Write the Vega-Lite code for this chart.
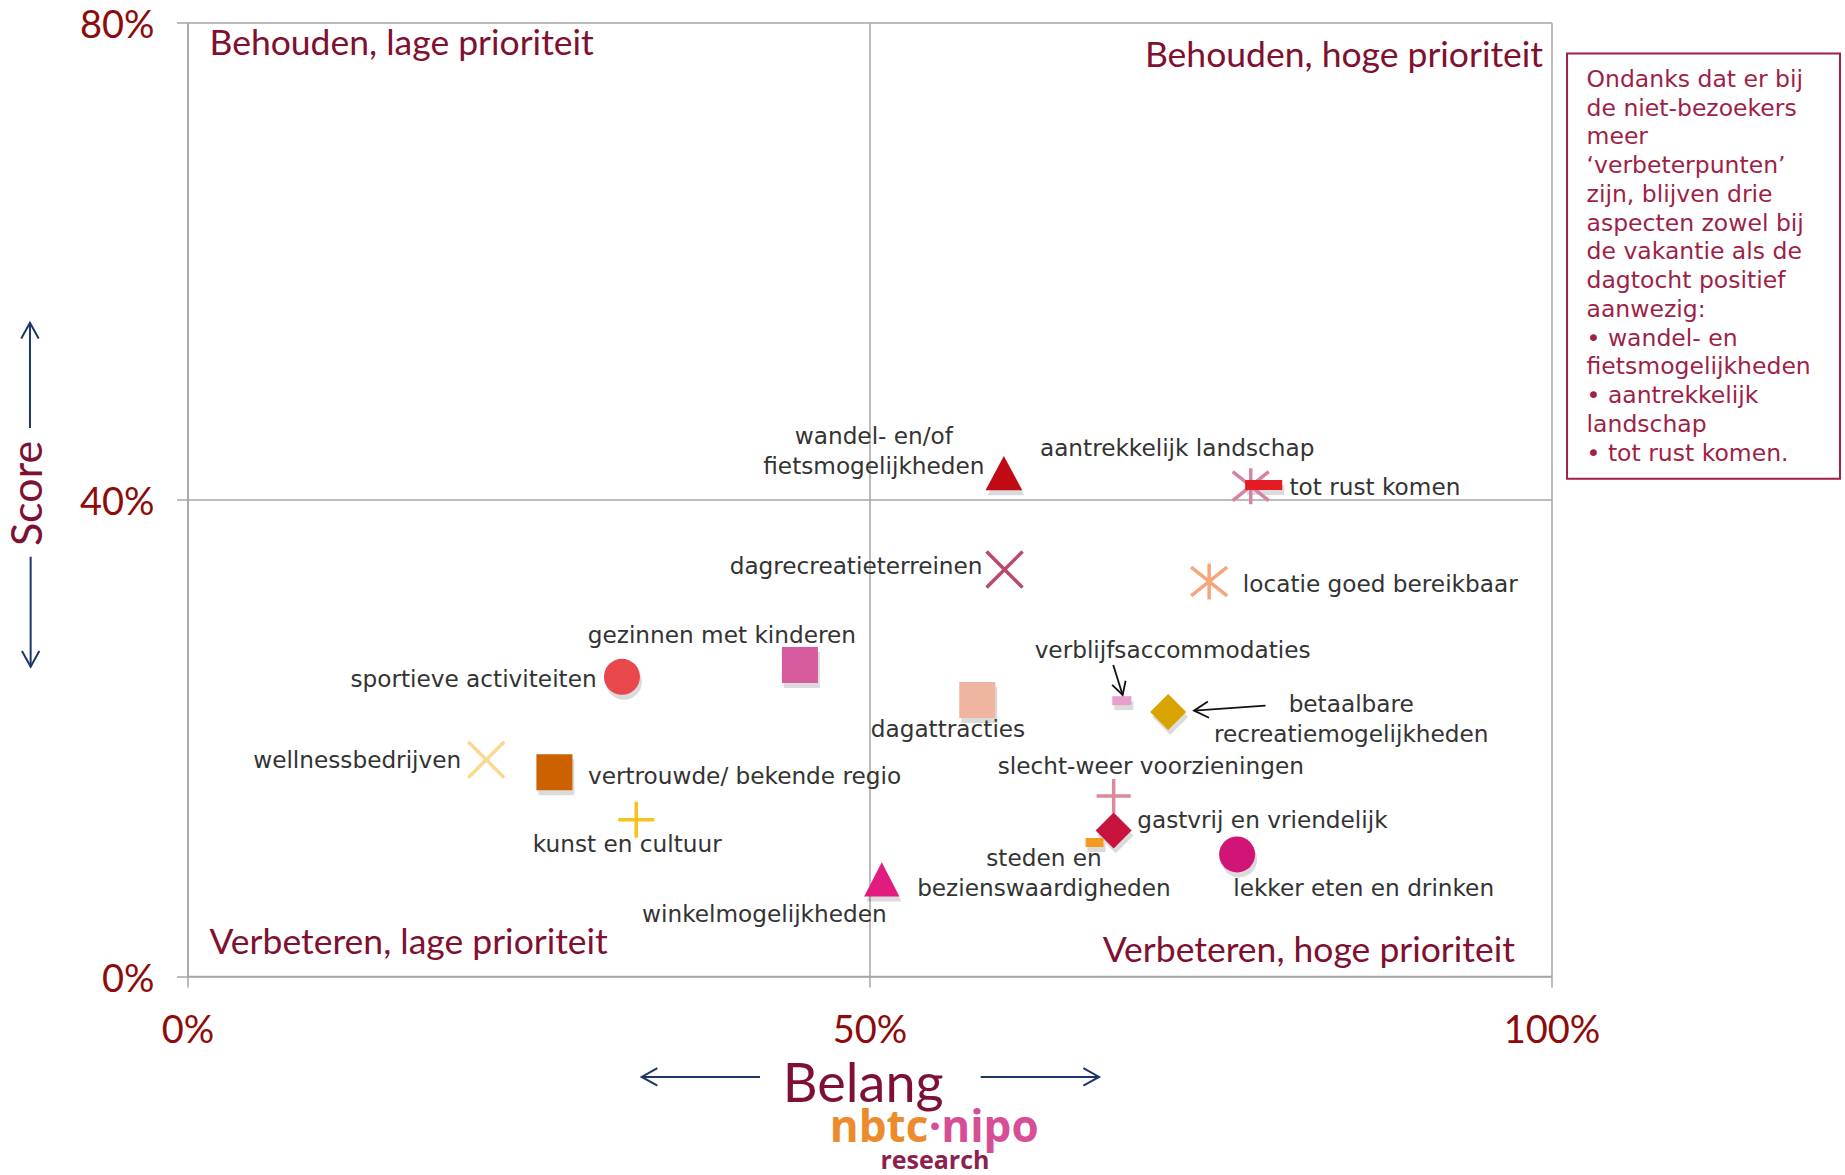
{
  "$schema": "https://vega.github.io/schema/vega-lite/v6.json",
  "width": 1364,
  "height": 953.5,
  "autosize": "none",
  "padding": {"left": 187.5, "top": 22.5, "right": 293.5, "bottom": 199},
  "background": "#ffffff",
  "datasets": {
    "points": [
      {"aspect": "wandel- en/of fietsmogelijkheden", "label": "wandel- en/of\nfietsmogelijkheden", "belang": 59.85, "score": 42.2},
      {"aspect": "aantrekkelijk landschap", "label": "aantrekkelijk landschap", "belang": 77.95, "score": 41.1},
      {"aspect": "tot rust komen", "label": "tot rust komen", "belang": 78.9, "score": 41.2},
      {"aspect": "dagrecreatieterreinen", "label": "dagrecreatieterreinen", "belang": 59.9, "score": 34.1},
      {"aspect": "locatie goed bereikbaar", "label": "locatie goed bereikbaar", "belang": 74.9, "score": 33.1},
      {"aspect": "gezinnen met kinderen", "label": "gezinnen met kinderen", "belang": 44.9, "score": 26.1},
      {"aspect": "sportieve activiteiten", "label": "sportieve activiteiten", "belang": 31.85, "score": 25.1},
      {"aspect": "dagattracties", "label": "dagattracties", "belang": 57.9, "score": 23.15},
      {"aspect": "verblijfsaccommodaties", "label": "verblijfsaccommodaties", "belang": 68.5, "score": 23.1},
      {"aspect": "betaalbare recreatiemogelijkheden", "label": "betaalbare\nrecreatiemogelijkheden", "belang": 71.9, "score": 22.15},
      {"aspect": "wellnessbedrijven", "label": "wellnessbedrijven", "belang": 21.9, "score": 18.15},
      {"aspect": "vertrouwde/ bekende regio", "label": "vertrouwde/ bekende regio", "belang": 26.9, "score": 17.1},
      {"aspect": "kunst en cultuur", "label": "kunst en cultuur", "belang": 32.9, "score": 13.1},
      {"aspect": "slecht-weer voorzieningen", "label": "slecht-weer voorzieningen", "belang": 67.9, "score": 15.1},
      {"aspect": "gastvrij en vriendelijk", "label": "gastvrij en vriendelijk", "belang": 67.9, "score": 12.2},
      {"aspect": "steden en bezienswaardigheden", "label": "steden en\nbezienswaardigheden", "belang": 66.5, "score": 11.2},
      {"aspect": "lekker eten en drinken", "label": "lekker eten en drinken", "belang": 76.95, "score": 10.2},
      {"aspect": "winkelmogelijkheden", "label": "winkelmogelijkheden", "belang": 50.9, "score": 8.1}
    ]
  },
  "data": {"values": [{}]},
  "config": {
    "view": {"stroke": null},
    "axis": {
      "grid": true, "gridColor": "#A6A6A6", "gridWidth": 1.5,
      "domainColor": "#A6A6A6", "domainWidth": 1.5,
      "tickColor": "#A6A6A6", "tickWidth": 1.5, "tickSize": 11,
      "labelFont": "Lato", "labelFontSize": 38, "labelColor": "#8E0B0B",
      "titleFont": "Lato", "titleColor": "#7E1034", "titleFontWeight": "normal"
    },
    "text": {"font": "DejaVu Sans", "fontSize": 23.2, "color": "#333333", "lineBreak": "\n", "lineHeight": 30, "baseline": "alphabetic"}
  },
  "layer": [
    {
      "data": {"name": "points"},
      "mark": {"type": "point", "filled": true, "color": "#000000", "opacity": 0.14, "size": 1296, "strokeWidth": 3.5, "xOffset": 2, "yOffset": 5},
      "encoding": {
        "x": {
          "field": "belang", "type": "quantitative",
          "scale": {"domain": [0, 100], "nice": false, "zero": false},
          "axis": {
            "values": [0, 50, 100], "labelExpr": "datum.value + '%'", "labelFlush": false, "labelOverlap": false,
            "labelPadding": 55, "labelBaseline": "alphabetic",
            "title": "Belang", "titleX": 675.2, "titleY": 125.7, "titleBaseline": "alphabetic", "titleAlign": "center",
            "titleAngle": 0, "titleFontSize": 54
          }
        },
        "y": {
          "field": "score", "type": "quantitative",
          "scale": {"domain": [0, 80], "nice": false, "zero": false},
          "axis": {
            "values": [0, 40, 80], "labelExpr": "datum.value + '%'", "labelFlush": false, "labelOverlap": false,
            "labelPadding": 22.5, "labelBaseline": "middle", "labelOffset": 4,
            "title": "Score", "titleX": -159.5, "titleY": 470.5, "titleAngle": 270, "titleBaseline": "middle", "titleAlign": "center",
            "titleFontSize": 43
          }
        },
        "shape": {"field": "aspect", "type": "nominal", "legend": null}
      }
    },
    {
      "data": {"name": "points"},
      "mark": {"type": "point", "filled": true, "opacity": 1, "size": 1296, "strokeWidth": 3.5},
      "encoding": {
        "x": {"field": "belang", "type": "quantitative"},
        "y": {"field": "score", "type": "quantitative"},
        "shape": {
          "field": "aspect", "type": "nominal", "legend": null,
          "scale": {
            "domain": ["wandel- en/of fietsmogelijkheden", "aantrekkelijk landschap", "tot rust komen", "dagrecreatieterreinen", "locatie goed bereikbaar", "gezinnen met kinderen", "sportieve activiteiten", "dagattracties", "verblijfsaccommodaties", "betaalbare recreatiemogelijkheden", "wellnessbedrijven", "vertrouwde/ bekende regio", "kunst en cultuur", "slecht-weer voorzieningen", "gastvrij en vriendelijk", "steden en bezienswaardigheden", "lekker eten en drinken", "winkelmogelijkheden"],
            "range": ["M0,-0.95L1.02,0.95L-1.02,0.95Z", "M0,-1L0,1M-1,-0.8L1,0.8M-1,0.8L1,-0.8", "M-1.03,-0.28L1.03,-0.28L1.03,0.28L-1.03,0.28Z", "M-1,-1L1,1M-1,1L1,-1", "M0,-1L0,1M-1,-0.8L1,0.8M-1,0.8L1,-0.8", "square", "circle", "square", "M-0.53,-0.25L0.53,-0.25L0.53,0.25L-0.53,0.25Z", "diamond", "M-1,-1L1,1M-1,1L1,-1", "square", "M-1,0L1,0M0,-1L0,1", "M-0.95,0L0.95,0M0,-0.95L0,0.95", "diamond", "M-0.5,-0.25L0.5,-0.25L0.5,0.25L-0.5,0.25Z", "circle", "M0,-0.95L0.98,0.95L-0.98,0.95Z"]
          }
        },
        "fill": {
          "field": "aspect", "type": "nominal", "legend": null,
          "scale": {
            "domain": ["wandel- en/of fietsmogelijkheden", "aantrekkelijk landschap", "tot rust komen", "dagrecreatieterreinen", "locatie goed bereikbaar", "gezinnen met kinderen", "sportieve activiteiten", "dagattracties", "verblijfsaccommodaties", "betaalbare recreatiemogelijkheden", "wellnessbedrijven", "vertrouwde/ bekende regio", "kunst en cultuur", "slecht-weer voorzieningen", "gastvrij en vriendelijk", "steden en bezienswaardigheden", "lekker eten en drinken", "winkelmogelijkheden"],
            "range": ["#C00A14", "transparent", "#E31B23", "transparent", "transparent", "#D65A9E", "#E8474C", "#F0B5A0", "#E6A0CC", "#D9A300", "transparent", "#CC6100", "transparent", "transparent", "#C8143C", "#F39A1F", "#D01577", "#E21B7F"]
          }
        },
        "stroke": {
          "field": "aspect", "type": "nominal", "legend": null,
          "scale": {
            "domain": ["wandel- en/of fietsmogelijkheden", "aantrekkelijk landschap", "tot rust komen", "dagrecreatieterreinen", "locatie goed bereikbaar", "gezinnen met kinderen", "sportieve activiteiten", "dagattracties", "verblijfsaccommodaties", "betaalbare recreatiemogelijkheden", "wellnessbedrijven", "vertrouwde/ bekende regio", "kunst en cultuur", "slecht-weer voorzieningen", "gastvrij en vriendelijk", "steden en bezienswaardigheden", "lekker eten en drinken", "winkelmogelijkheden"],
            "range": ["transparent", "#D582A8", "transparent", "#B84A6B", "#F7A67B", "transparent", "transparent", "transparent", "transparent", "transparent", "#FAD98E", "transparent", "#F6C21C", "#D98A9B", "transparent", "transparent", "transparent", "transparent"]
          }
        }
      }
    },
    {"data": {"name": "points"}, "transform": [{"filter": "datum.aspect === 'wandel- en/of fietsmogelijkheden'"}], "mark": {"type": "text", "align": "center", "dx": -130, "dy": -28.7}, "encoding": {"x": {"field": "belang", "type": "quantitative"}, "y": {"field": "score", "type": "quantitative"}, "text": {"field": "label"}}},
    {"data": {"name": "points"}, "transform": [{"filter": "datum.aspect === 'aantrekkelijk landschap'"}], "mark": {"type": "text", "align": "left", "dx": -210.8, "dy": -30}, "encoding": {"x": {"field": "belang", "type": "quantitative"}, "y": {"field": "score", "type": "quantitative"}, "text": {"field": "label"}}},
    {"data": {"name": "points"}, "transform": [{"filter": "datum.aspect === 'tot rust komen'"}], "mark": {"type": "text", "align": "left", "dx": 25.8, "dy": 10}, "encoding": {"x": {"field": "belang", "type": "quantitative"}, "y": {"field": "score", "type": "quantitative"}, "text": {"field": "label"}}},
    {"data": {"name": "points"}, "transform": [{"filter": "datum.aspect === 'dagrecreatieterreinen'"}], "mark": {"type": "text", "align": "right", "dx": -22, "dy": 4.3}, "encoding": {"x": {"field": "belang", "type": "quantitative"}, "y": {"field": "score", "type": "quantitative"}, "text": {"field": "label"}}},
    {"data": {"name": "points"}, "transform": [{"filter": "datum.aspect === 'locatie goed bereikbaar'"}], "mark": {"type": "text", "align": "left", "dx": 33.7, "dy": 10.7}, "encoding": {"x": {"field": "belang", "type": "quantitative"}, "y": {"field": "score", "type": "quantitative"}, "text": {"field": "label"}}},
    {"data": {"name": "points"}, "transform": [{"filter": "datum.aspect === 'gezinnen met kinderen'"}], "mark": {"type": "text", "align": "right", "dx": 56, "dy": -22}, "encoding": {"x": {"field": "belang", "type": "quantitative"}, "y": {"field": "score", "type": "quantitative"}, "text": {"field": "label"}}},
    {"data": {"name": "points"}, "transform": [{"filter": "datum.aspect === 'sportieve activiteiten'"}], "mark": {"type": "text", "align": "right", "dx": -25.3, "dy": 10.3}, "encoding": {"x": {"field": "belang", "type": "quantitative"}, "y": {"field": "score", "type": "quantitative"}, "text": {"field": "label"}}},
    {"data": {"name": "points"}, "transform": [{"filter": "datum.aspect === 'dagattracties'"}], "mark": {"type": "text", "align": "left", "dx": -106.5, "dy": 36.7}, "encoding": {"x": {"field": "belang", "type": "quantitative"}, "y": {"field": "score", "type": "quantitative"}, "text": {"field": "label"}}},
    {"data": {"name": "points"}, "transform": [{"filter": "datum.aspect === 'verblijfsaccommodaties'"}], "mark": {"type": "text", "align": "left", "dx": -87.2, "dy": -42.2}, "encoding": {"x": {"field": "belang", "type": "quantitative"}, "y": {"field": "score", "type": "quantitative"}, "text": {"field": "label"}}},
    {"data": {"name": "points"}, "transform": [{"filter": "datum.aspect === 'betaalbare recreatiemogelijkheden'"}], "mark": {"type": "text", "align": "center", "dx": 183, "dy": 0, "lineHeight": 30.4}, "encoding": {"x": {"field": "belang", "type": "quantitative"}, "y": {"field": "score", "type": "quantitative"}, "text": {"field": "label"}}},
    {"data": {"name": "points"}, "transform": [{"filter": "datum.aspect === 'wellnessbedrijven'"}], "mark": {"type": "text", "align": "right", "dx": -25, "dy": 8}, "encoding": {"x": {"field": "belang", "type": "quantitative"}, "y": {"field": "score", "type": "quantitative"}, "text": {"field": "label"}}},
    {"data": {"name": "points"}, "transform": [{"filter": "datum.aspect === 'vertrouwde/ bekende regio'"}], "mark": {"type": "text", "align": "left", "dx": 33.5, "dy": 11.6}, "encoding": {"x": {"field": "belang", "type": "quantitative"}, "y": {"field": "score", "type": "quantitative"}, "text": {"field": "label"}}},
    {"data": {"name": "points"}, "transform": [{"filter": "datum.aspect === 'kunst en cultuur'"}], "mark": {"type": "text", "align": "center", "dx": -9, "dy": 32}, "encoding": {"x": {"field": "belang", "type": "quantitative"}, "y": {"field": "score", "type": "quantitative"}, "text": {"field": "label"}}},
    {"data": {"name": "points"}, "transform": [{"filter": "datum.aspect === 'slecht-weer voorzieningen'"}], "mark": {"type": "text", "align": "left", "dx": -115.9, "dy": -22.5}, "encoding": {"x": {"field": "belang", "type": "quantitative"}, "y": {"field": "score", "type": "quantitative"}, "text": {"field": "label"}}},
    {"data": {"name": "points"}, "transform": [{"filter": "datum.aspect === 'gastvrij en vriendelijk'"}], "mark": {"type": "text", "align": "left", "dx": 23.6, "dy": -2.5}, "encoding": {"x": {"field": "belang", "type": "quantitative"}, "y": {"field": "score", "type": "quantitative"}, "text": {"field": "label"}}},
    {"data": {"name": "points"}, "transform": [{"filter": "datum.aspect === 'steden en bezienswaardigheden'"}], "mark": {"type": "text", "align": "center", "dx": -50.6, "dy": 23.9}, "encoding": {"x": {"field": "belang", "type": "quantitative"}, "y": {"field": "score", "type": "quantitative"}, "text": {"field": "label"}}},
    {"data": {"name": "points"}, "transform": [{"filter": "datum.aspect === 'lekker eten en drinken'"}], "mark": {"type": "text", "align": "left", "dx": -3.9, "dy": 42}, "encoding": {"x": {"field": "belang", "type": "quantitative"}, "y": {"field": "score", "type": "quantitative"}, "text": {"field": "label"}}},
    {"data": {"name": "points"}, "transform": [{"filter": "datum.aspect === 'winkelmogelijkheden'"}], "mark": {"type": "text", "align": "right", "dx": 4.9, "dy": 43}, "encoding": {"x": {"field": "belang", "type": "quantitative"}, "y": {"field": "score", "type": "quantitative"}, "text": {"field": "label"}}},
    {"mark": {"type": "text", "text": "Behouden, lage prioriteit", "align": "left", "font": "Lato", "fontSize": 35.5, "color": "#80102F"}, "encoding": {"x": {"datum": 1.61, "type": "quantitative"}, "y": {"datum": 77.24, "type": "quantitative"}}},
    {"mark": {"type": "text", "text": "Behouden, hoge prioriteit", "align": "right", "font": "Lato", "fontSize": 35.5, "color": "#80102F"}, "encoding": {"x": {"datum": 99.38, "type": "quantitative"}, "y": {"datum": 76.27, "type": "quantitative"}}},
    {"mark": {"type": "text", "text": "Verbeteren, lage prioriteit", "align": "left", "font": "Lato", "fontSize": 35.5, "color": "#80102F"}, "encoding": {"x": {"datum": 1.61, "type": "quantitative"}, "y": {"datum": 1.85, "type": "quantitative"}}},
    {"mark": {"type": "text", "text": "Verbeteren, hoge prioriteit", "align": "right", "font": "Lato", "fontSize": 35.5, "color": "#80102F"}, "encoding": {"x": {"datum": 97.32, "type": "quantitative"}, "y": {"datum": 1.17, "type": "quantitative"}}},
    {"mark": {"type": "rect", "fill": "transparent", "stroke": "#9E1F47", "strokeWidth": 2}, "encoding": {"x": {"datum": 101.14, "type": "quantitative"}, "x2": {"datum": 121.15}, "y": {"datum": 77.39, "type": "quantitative"}, "y2": {"datum": 41.73}}},
    {"mark": {"type": "text", "align": "left", "fontSize": 23.5, "lineHeight": 28.75, "color": "#9E1F47", "text": ["Ondanks dat er bij", "de niet-bezoekers", "meer", "‘verbeterpunten’", "zijn, blijven drie", "aspecten zowel bij", "de vakantie als de", "dagtocht positief", "aanwezig:", "• wandel- en", "fietsmogelijkheden", "• aantrekkelijk", "landschap", "• tot rust komen."]}, "encoding": {"x": {"datum": 102.57, "type": "quantitative"}, "y": {"datum": 74.59, "type": "quantitative"}}},
    {"mark": {"type": "rule", "color": "#1F3468", "strokeWidth": 2}, "encoding": {"x": {"datum": -11.55, "type": "quantitative"}, "y": {"datum": 45.98, "type": "quantitative"}, "y2": {"datum": 54.81}}},
    {"mark": {"type": "point", "shape": "M-1,1.8L0,0L1,1.8", "size": 303, "filled": false, "stroke": "#1F3468", "strokeWidth": 2, "opacity": 1, "angle": 0}, "encoding": {"x": {"datum": -11.55, "type": "quantitative"}, "y": {"datum": 54.81, "type": "quantitative"}}},
    {"mark": {"type": "rule", "color": "#1F3468", "strokeWidth": 2}, "encoding": {"x": {"datum": -11.5, "type": "quantitative"}, "y": {"datum": 35.18, "type": "quantitative"}, "y2": {"datum": 25.95}}},
    {"mark": {"type": "point", "shape": "M-1,1.8L0,0L1,1.8", "size": 303, "filled": false, "stroke": "#1F3468", "strokeWidth": 2, "opacity": 1, "angle": 180}, "encoding": {"x": {"datum": -11.5, "type": "quantitative"}, "y": {"datum": 25.95, "type": "quantitative"}}},
    {"mark": {"type": "rule", "color": "#1F3468", "strokeWidth": 2}, "encoding": {"x": {"datum": 33.3, "type": "quantitative"}, "x2": {"datum": 41.97}, "y": {"datum": -8.47, "type": "quantitative"}}},
    {"mark": {"type": "point", "shape": "M-1,1.8L0,0L1,1.8", "size": 303, "filled": false, "stroke": "#1F3468", "strokeWidth": 2, "opacity": 1, "angle": 270}, "encoding": {"x": {"datum": 33.3, "type": "quantitative"}, "y": {"datum": -8.47, "type": "quantitative"}}},
    {"mark": {"type": "rule", "color": "#1F3468", "strokeWidth": 2}, "encoding": {"x": {"datum": 58.15, "type": "quantitative"}, "x2": {"datum": 66.83}, "y": {"datum": -8.47, "type": "quantitative"}}},
    {"mark": {"type": "point", "shape": "M-1,1.8L0,0L1,1.8", "size": 303, "filled": false, "stroke": "#1F3468", "strokeWidth": 2, "opacity": 1, "angle": 90}, "encoding": {"x": {"datum": 66.83, "type": "quantitative"}, "y": {"datum": -8.47, "type": "quantitative"}}},
    {"mark": {"type": "rule", "color": "#111111", "strokeWidth": 1.8}, "encoding": {"x": {"datum": 79.03, "type": "quantitative"}, "x2": {"datum": 73.79}, "y": {"datum": 22.69, "type": "quantitative"}, "y2": {"datum": 22.26}}},
    {"mark": {"type": "point", "shape": "M-1,1.8L0,0L1,1.8", "size": 260, "filled": false, "stroke": "#111111", "strokeWidth": 1.8, "opacity": 1, "angle": 265.9}, "encoding": {"x": {"datum": 73.79, "type": "quantitative"}, "y": {"datum": 22.26, "type": "quantitative"}}},
    {"mark": {"type": "rule", "color": "#111111", "strokeWidth": 1.8}, "encoding": {"x": {"datum": 67.87, "type": "quantitative"}, "x2": {"datum": 68.56}, "y": {"datum": 26.09, "type": "quantitative"}, "y2": {"datum": 23.58}}},
    {"mark": {"type": "point", "shape": "M-1,1.8L0,0L1,1.8", "size": 200, "filled": false, "stroke": "#111111", "strokeWidth": 1.8, "opacity": 1, "angle": 162.6}, "encoding": {"x": {"datum": 68.56, "type": "quantitative"}, "y": {"datum": 23.58, "type": "quantitative"}}},
    {"mark": {"type": "text", "text": "nbtc", "align": "right", "font": "Open Sans", "fontWeight": "bold", "fontSize": 44, "color": "#EC8B2C"}, "encoding": {"x": {"datum": 54.31, "type": "quantitative"}, "y": {"datum": -13.9, "type": "quantitative"}}},
    {"mark": {"type": "text", "text": "·nipo", "align": "left", "font": "Open Sans", "fontWeight": "bold", "fontSize": 44, "color": "#D64E95"}, "encoding": {"x": {"datum": 54.34, "type": "quantitative"}, "y": {"datum": -13.9, "type": "quantitative"}}},
    {"mark": {"type": "text", "text": "research", "align": "center", "font": "Open Sans", "fontWeight": "bold", "fontSize": 25, "color": "#8C2150"}, "encoding": {"x": {"datum": 54.8, "type": "quantitative"}, "y": {"datum": -16.2, "type": "quantitative"}}}
  ]
}
